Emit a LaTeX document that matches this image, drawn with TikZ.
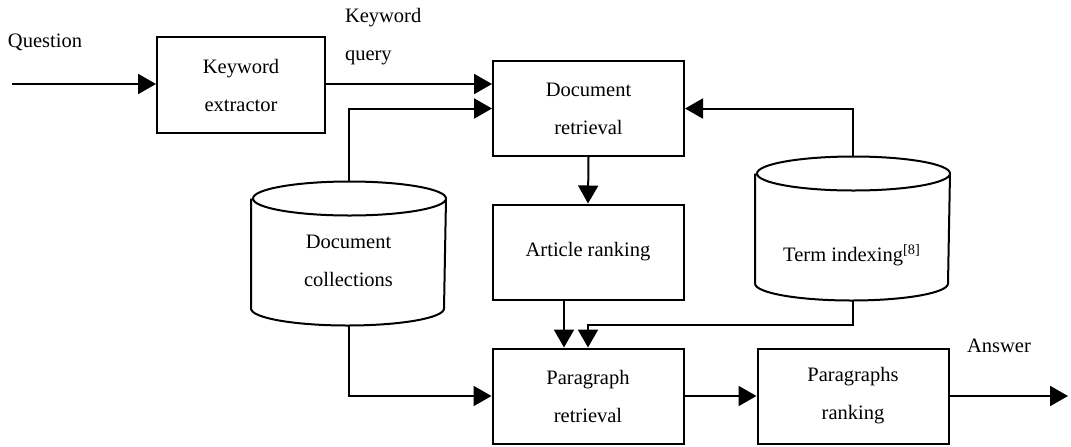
\documentclass[tikz,border=0pt]{standalone}
\usepackage{fontspec}
\setmainfont{Liberation Serif}
\usetikzlibrary{arrows.meta,positioning,calc}

\begin{document}
\begin{tikzpicture}[
    x=0.5pt, y=-0.5pt,
    every node/.style={font=\fontsize{10.25}{19}\selectfont},
    procnode/.style={rectangle, draw=black, align=center, minimum width=95.5pt, minimum height=47.5pt, inner sep=0pt},
    smallnode/.style={procnode, minimum width=84pt, minimum height=48pt},
    dbnode/.style={rectangle, minimum width=96.5pt, minimum height=71pt, inner sep=0pt},
    dbtext/.style={align=center, inner sep=0pt},
    arr/.style={-{Triangle[length=9pt,width=10pt]}},
    line width=1pt, black
    ]
    \useasboundingbox (0,0) rectangle (1071,446);

    %Nodes
    \node[smallnode] (kwx)     at (241,85)    {Keyword\\extractor};
    \node[procnode]  (docret)  at (588.5,108.5) {Document\\retrieval};
    \node[procnode]  (artrank) at (588,252)   {Article ranking};
    \node[procnode]  (parret)  at (588,396)   {Paragraph\\retrieval};
    \node[procnode]  (parrank) at (853,396)   {Paragraphs\\ranking};
    \node[dbnode]    (dcoll)   at (348.5,253.5) {};
    \node[dbnode]    (termdb)  at (852.5,228.5) {};
    \node[dbtext]    (dcolltext) at (348.5,261) {Document\\collections};
    \node[dbtext]    (termtext)  at (852,255)   {Term indexing\textsuperscript{[8]}};

    % Text labels (outside nodes)
    \node (question) at (45,42) {Question};
    \node[anchor=west, align=left, inner sep=0pt] (kwquery) at (344,37) {Keyword\\query};
    \node (answer) at (999,346) {Answer};
    \coordinate (qin) at (12,84);
    \coordinate (ansout) at (1068,396);

    %Cylinders
    \foreach \db in {dcoll,termdb} {
        \draw ([yshift=-8.5pt]\db.north west) -- ([yshift=8.5pt]\db.south west)
            arc[start angle=180, end angle=360, x radius=48.25pt, y radius=8.5pt]
            -- ([yshift=-8.5pt]\db.north east)
            arc[start angle=0, end angle=360, x radius=48.25pt, y radius=8.5pt];
    }

    %Lines
    \draw[arr] (qin) -- (kwx.west |- qin);
    \draw[arr] (kwx.east |- qin) -- (docret.west |- qin);
    \draw[arr] (dcoll.north) |- (docret.west);
    \draw[arr] (termdb.north) |- (docret.east);
    \draw[arr] (docret.south) -- (artrank.north);
    \draw[arr] ([xshift=-12pt]artrank.south) -- ([xshift=-12pt]parret.north);
    \draw[arr] (termdb.south) -- ++(0,24) -| (parret.north);
    \draw[arr] (dcoll.south) |- (parret.west);
    \draw[arr] (parret.east) -- (parrank.west);
    \draw[arr] (parrank.east) -- (ansout);
\end{tikzpicture}
\end{document}
